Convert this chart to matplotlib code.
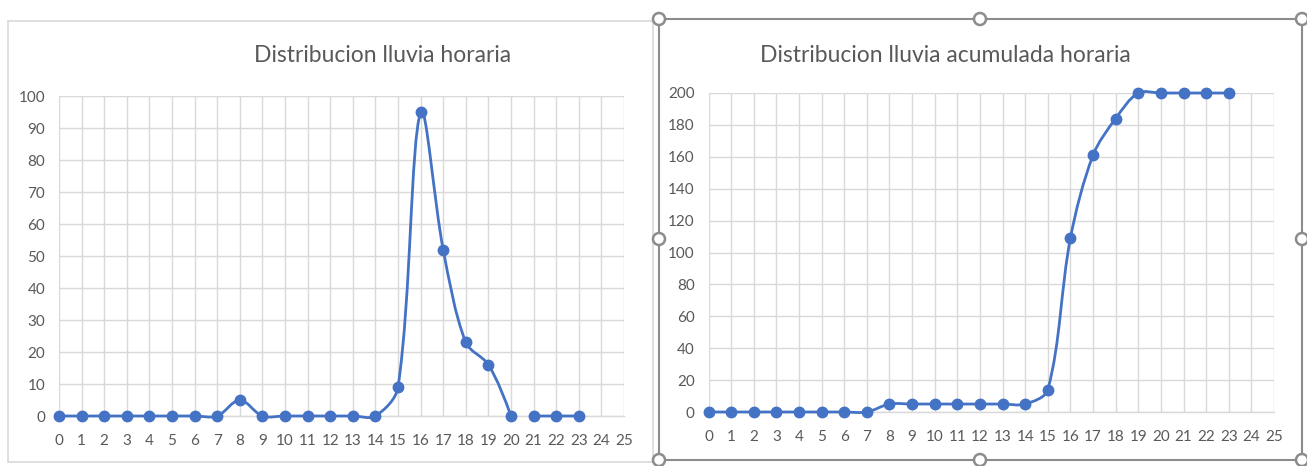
import numpy as np
import matplotlib
matplotlib.use("Agg")
import matplotlib.pyplot as plt
from matplotlib.path import Path
from matplotlib.patches import PathPatch, Rectangle, Circle

plt.rcParams['font.family'] = ['Lato', 'DejaVu Sans']

# Hourly rainfall (mm) for hours 0..23
hours = list(range(24))
rain_hourly = [0, 0, 0, 0, 0, 0, 0, 0, 5, 0, 0, 0, 0, 0, 0, 9, 95, 52, 23, 16, 0, 0, 0, 0]
# the hourly series is drawn as two separate runs, split before this hour
hourly_split_at = 21
rain_cumulative = list(np.cumsum(rain_hourly))

title_left = "Distribucion lluvia horaria"
title_right = "Distribucion lluvia acumulada horaria"
x_ticks = list(range(0, 26))
y_ticks_left = list(range(0, 101, 10))
y_ticks_right = list(range(0, 201, 20))

BLUE = "#4472C4"
GRID = "#D9D9D9"
TEXT = "#595959"

W, H = 1307, 466
fig = plt.figure(figsize=(W / 100, H / 100), dpi=100)


def fx(px):
    return px / W


def fy(py):
    return 1 - py / H


def smooth_path(ax, xs, ys):
    """Bezier path through the points; control arms are weighted by the
    on-screen length of the neighbouring segments to avoid overshoot."""
    data = np.column_stack([xs, ys]).astype(float)
    scr = ax.transData.transform(data)
    n = len(data)
    seg = np.hypot(*np.diff(scr, axis=0).T)

    def arms(i):
        # returns (arm_in, arm_out) in data units at point i
        if i == 0 or i == n - 1:
            return np.zeros(2), np.zeros(2)
        d0, d1 = seg[i - 1], seg[i]
        tot = d0 + d1 if d0 + d1 > 0 else 1.0
        chord = data[i + 1] - data[i - 1]
        return chord * d0 / tot / 3.0, chord * d1 / tot / 3.0

    verts = [data[0]]
    codes = [Path.MOVETO]
    for i in range(n - 1):
        _, out_i = arms(i)
        in_j, _ = arms(i + 1)
        c1 = data[i] + out_i
        c2 = data[i + 1] - in_j
        if i == 0:
            c1 = data[i] + (c2 - data[i]) / 2.0
        if i + 1 == n - 1:
            c2 = data[i + 1] + (c1 - data[i + 1]) / 2.0
        verts += [c1, c2, data[i + 1]]
        codes += [Path.CURVE4] * 3
    return Path(verts, codes)


def draw_series(ax, xs, ys):
    ax.add_patch(PathPatch(smooth_path(ax, xs, ys), facecolor="none", clip_on=False,
                           edgecolor=BLUE, lw=2.0, zorder=3, capstyle="round"))
    ax.plot(xs, ys, linestyle="none", marker="o", ms=7.5, color=BLUE,
            zorder=4, clip_on=False)


def style_axes(ax, yticks, ymax):
    ax.set_xlim(0, 25)
    ax.set_ylim(0, ymax)
    ax.set_xticks(x_ticks)
    ax.set_yticks(yticks)
    ax.grid(True, color=GRID, lw=1.0)
    ax.set_axisbelow(True)
    for s in ("top", "right", "left"):
        ax.spines[s].set_visible(False)
    ax.spines["bottom"].set_color(GRID)
    ax.spines["bottom"].set_linewidth(1.0)
    ax.tick_params(length=0, labelsize=11, colors=TEXT)
    ax.tick_params(axis="x", pad=13)
    ax.tick_params(axis="y", pad=10)
    ax.patch.set_alpha(0)


# chart frames
fig.patches.append(Rectangle((fx(8), fy(462)), fx(653) - fx(8), fy(21) - fy(462),
                             transform=fig.transFigure, fill=False,
                             edgecolor="#D9D9D9", lw=1.2, zorder=0))
fig.patches.append(Rectangle((fx(659), fy(460)), fx(1302) - fx(659), fy(19) - fy(460),
                             transform=fig.transFigure, fill=False,
                             edgecolor="#8C8C8C", lw=1.5, zorder=5))

# left: hourly rainfall
axL = fig.add_axes([fx(59), fy(416), fx(624) - fx(59), fy(96) - fy(416)])
style_axes(axL, y_ticks_left, 100)
k = hourly_split_at
draw_series(axL, hours[:k], rain_hourly[:k])
draw_series(axL, hours[k:], rain_hourly[k:])
fig.text(fx(383), fy(56), title_left, ha="center", va="center",
         fontsize=16.5, color=TEXT)

# right: cumulative rainfall
axR = fig.add_axes([fx(708.5), fy(412), fx(1274) - fx(708.5), fy(93) - fy(412)])
style_axes(axR, y_ticks_right, 200)
draw_series(axR, hours, rain_cumulative)
fig.text(fx(945), fy(56), title_right, ha="center", va="center",
         fontsize=16.5, color=TEXT)

# selection handles on the right chart frame
for hx, hy in [(659, 19), (980, 19), (1302, 19), (659, 239), (1302, 239),
               (659, 460), (980, 460), (1302, 460)]:
    c = Circle((hx, H - hy), 6, transform=None, facecolor="white",
               edgecolor="#8C8C8C", lw=1.8, zorder=10)
    fig.patches.append(c)

fig.savefig("out.png", dpi=100)
